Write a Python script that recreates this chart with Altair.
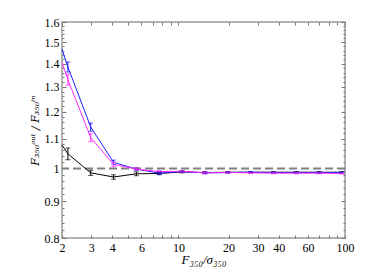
import altair as alt
import pandas as pd

# ---- data ----
x_vals = [2, 2.17, 2.975, 4.08, 5.59, 7.67, 10.5, 14.4, 19.8, 27.1, 37.2, 51.0, 69.9, 95.8]
black_y = [1.078, 1.048, 0.986, 0.973, 0.983, 0.984, 0.989, 0.987, 0.988, 0.988, 0.988, 0.988, 0.988, 0.988]
blue_y = [1.467, 1.385, 1.142, 1.020, 0.998, 0.985, 0.990, 0.986, 0.987, 0.988, 0.987, 0.987, 0.987, 0.987]
magenta_y = [1.404, 1.330, 1.104, 1.013, 0.998, 0.990, 0.991, 0.986, 0.987, 0.986, 0.985, 0.985, 0.985, 0.984]
black_err = [0, 0.020, 0.008, 0.007, 0.006, 0.004, 0.003, 0.003, 0.002, 0.002, 0.002, 0.002, 0.002, 0.002]
blue_err = [0, 0.022, 0.015, 0.007, 0.004, 0.004, 0.003, 0.003, 0.002, 0.002, 0.002, 0.002, 0.002, 0.002]
magenta_err = [0, 0.024, 0.014, 0.007, 0.004, 0.003, 0.003, 0.003, 0.002, 0.002, 0.002, 0.002, 0.002, 0.002]
series_names = ["black", "blue", "magenta"]
series_colors = ["#000000", "#1f1fff", "#ff2bff"]

x_ticks = [2, 3, 4, 5, 6, 7, 8, 9, 10, 20, 30, 40, 50, 60, 70, 80, 90, 100]
x_labeled = [2, 3, 4, 6, 10, 20, 30, 40, 60, 100]
y_major = [0.8, 0.9, 1.0, 1.1, 1.2, 1.3, 1.4, 1.5, 1.6]
y_minor = [0.82, 0.84, 0.86, 0.88, 0.92, 0.94, 0.96, 0.98, 1.02, 1.04, 1.06, 1.08,
           1.12, 1.14, 1.16, 1.18, 1.22, 1.24, 1.26, 1.28, 1.32, 1.34, 1.36, 1.38,
           1.42, 1.44, 1.46, 1.48, 1.52, 1.54, 1.56, 1.58]
ref_line = [1.0]

rows = []
for name, ys, errs in zip(series_names, [black_y, blue_y, magenta_y], [black_err, blue_err, magenta_err]):
    for xv, yv, ev in zip(x_vals, ys, errs):
        rows.append(dict(series=name, x=xv, y=yv, lo=yv - ev, hi=yv + ev, err=ev))
df = pd.DataFrame(rows)
err_df = df[df["err"] > 0]

FONT = "Liberation Serif"
TICK_COLOR = "#777777"

xscale = alt.Scale(type="log", domain=[2, 100], nice=False)
yscale = alt.Scale(type="log", domain=[0.8, 1.6], nice=False, zero=False)
color = alt.Color("series:N", scale=alt.Scale(domain=series_names, range=series_colors), legend=None)

common = dict(domain=False, grid=False, tickColor=TICK_COLOR, tickWidth=1, labelFlush=False)

x_bottom = alt.Axis(values=x_ticks, tickSize=3, offset=-3, labelPadding=4,
                    labelExpr="indexof([2,3,4,6,10,20,30,40,60,100], datum.value) >= 0 ? format(datum.value, 'd') : ''",
                    labelFont=FONT, labelFontSize=12, labelColor="black",
                    title="F₃₅₀/σ₃₅₀", titleFont=FONT, titleFontSize=13, titleFontStyle="italic",
                    titleFontWeight="normal", titleColor="black", titlePadding=0, **common)
y_left = alt.Axis(values=y_major, tickSize=4, offset=-4, labelPadding=3,
                  labelExpr="format(datum.value, '.1~f')",
                  labelFont=FONT, labelFontSize=12, labelColor="black",
                  title="F₃₅₀ᵒᵘᵗ / F₃₅₀ⁱⁿ", titleFont="DejaVu Serif", titleFontSize=11, titleFontStyle="italic",
                  titleFontWeight="normal", titleColor="black", titlePadding=4, **common)
x_top = alt.Axis(orient="top", values=x_ticks, tickSize=3, offset=-3, labels=False, title=None, **common)
y_right = alt.Axis(orient="right", values=y_major, tickSize=4, offset=-4, labels=False, title=None, **common)
y_left_minor = alt.Axis(values=y_minor, tickSize=2, offset=-2, labels=False, title=None, **common)
y_right_minor = alt.Axis(orient="right", values=y_minor, tickSize=2, offset=-2, labels=False, title=None, **common)

base = alt.Chart(df)

lines = base.mark_line(strokeWidth=1).encode(
    x=alt.X("x:Q", scale=xscale, axis=x_bottom),
    y=alt.Y("y:Q", scale=yscale, axis=y_left),
    color=color,
    detail="series:N",
)

errbars = alt.Chart(err_df).mark_errorbar(ticks={"size": 5}, thickness=1).encode(
    x=alt.X("x:Q", scale=xscale, axis=None),
    y=alt.Y("lo:Q", scale=yscale, axis=None),
    y2="hi:Q",
    color=color,
)

rule = alt.Chart(pd.DataFrame({"y": ref_line})).mark_rule(
    color="#808080", strokeWidth=2, strokeDash=[8, 4]
).encode(y=alt.Y("y:Q", scale=yscale, axis=None))

inv1 = base.mark_point(opacity=0).encode(
    x=alt.X("x:Q", scale=xscale, axis=x_top),
    y=alt.Y("y:Q", scale=yscale, axis=y_right),
)
inv2 = base.mark_point(opacity=0).encode(
    x=alt.X("x:Q", scale=xscale, axis=None),
    y=alt.Y("y:Q", scale=yscale, axis=y_left_minor),
)
inv3 = base.mark_point(opacity=0).encode(
    x=alt.X("x:Q", scale=xscale, axis=None),
    y=alt.Y("y:Q", scale=yscale, axis=y_right_minor),
)

chart = alt.layer(rule, lines, errbars, inv1, inv2, inv3).resolve_axis(
    x="independent", y="independent"
).properties(
    width=283, height=216, padding={"left": 21, "top": 8, "right": 5, "bottom": 5}
).configure_view(
    stroke="#9a9a9a", strokeWidth=1.5
)

chart.save("out.html", embed_options={"renderer": "svg", "actions": False})
